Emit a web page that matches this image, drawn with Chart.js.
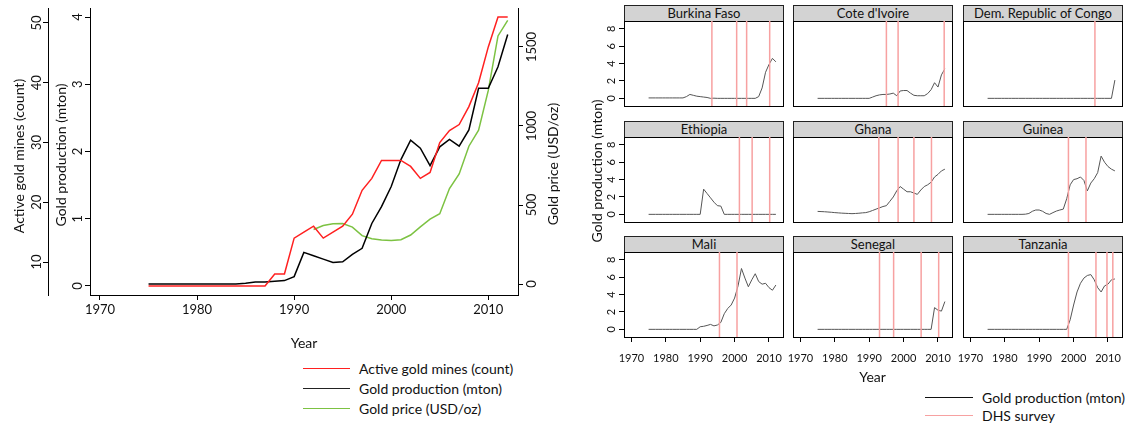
<!DOCTYPE html>
<html>
<head>
<meta charset="utf-8">
<script src="https://cdn.jsdelivr.net/npm/chart.js@4/dist/chart.umd.min.js"></script>
<style>
  body { margin:0; background:#fff; width:1130px; height:427px; overflow:hidden; position:relative; font-family:Lato, sans-serif; color:#111; }
  canvas { position:absolute; }
  .strip { position:absolute; box-sizing:border-box; height:17px; background:#d3d3d3; border:1px solid #222; font-size:13px; line-height:15px; text-align:center; white-space:nowrap; }
  .vt { position:absolute; transform:translate(-50%,-50%) rotate(-90deg); white-space:nowrap; font-size:14px; }
  .leg { position:absolute; font-size:14px; white-space:nowrap; transform:translateY(-50%); }
  .key { position:absolute; height:0; border-top:1.6px solid; }
</style>
</head>
<body>
<canvas id="main" width="575" height="355" style="left:0;top:0"></canvas>

<div class="vt" style="left:18px;top:156px">Active gold mines (count)</div>
<div class="vt" style="left:60px;top:155px">Gold production (mton)</div>
<div class="vt" style="left:552px;top:164px">Gold price (USD/oz)</div>
<div class="vt" style="left:596px;top:171px">Gold production (mton)</div>

<div class="key" style="left:303px;top:368px;width:47px;border-color:#ff2020"></div>
<div class="leg" style="left:359px;top:368px">Active gold mines (count)</div>
<div class="key" style="left:303px;top:388px;width:47px;border-color:#222"></div>
<div class="leg" style="left:359px;top:388px">Gold production (mton)</div>
<div class="key" style="left:303px;top:408px;width:47px;border-color:#7cc242"></div>
<div class="leg" style="left:359px;top:408px">Gold price (USD/oz)</div>

<div class="key" style="left:925px;top:397px;width:48px;border-color:#111"></div>
<div class="leg" style="left:982px;top:397px">Gold production (mton)</div>
<div class="key" style="left:925px;top:415px;width:48px;border-color:#f7a1a1"></div>
<div class="leg" style="left:982px;top:415px">DHS survey</div>

<script>
// ---- Overall series, 1975-2012 ----
const years = [1975,1976,1977,1978,1979,1980,1981,1982,1983,1984,1985,1986,1987,1988,1989,1990,1991,1992,1993,1994,1995,1996,1997,1998,1999,2000,2001,2002,2003,2004,2005,2006,2007,2008,2009,2010,2011,2012];
const activeMines = [6,6,6,6,6,6,6,6,6,6,6,6,6,8,8,14,15,16,14,15,16,18,22,24,27,27,27,26,24,25,30,32,33,36,40,46,51,51];
const goldProduction = [0.03,0.03,0.03,0.03,0.03,0.03,0.03,0.03,0.03,0.03,0.04,0.06,0.06,0.07,0.08,0.14,0.50,0.45,0.40,0.35,0.36,0.47,0.56,0.93,1.18,1.48,1.88,2.17,2.05,1.79,2.07,2.18,2.08,2.32,2.94,2.94,3.26,3.74];
const priceYears = [1992,1993,1994,1995,1996,1997,1998,1999,2000,2001,2002,2003,2004,2005,2006,2007,2008,2009,2010,2011,2012];
const goldPrice = [345,370,382,383,360,306,287,278,276,280,310,362,410,445,604,697,872,974,1225,1570,1668];

const yearTicks = [1970,1980,1990,2000,2010];
const mineTicks = [10,20,30,40,50];
const prodTicks = [0,1,2,3,4];
const priceTicks = [0,500,1000,1500];

// ---- Country panels ----
const countries = ['Burkina Faso','Cote d\'Ivoire','Dem. Republic of Congo','Ethiopia','Ghana','Guinea','Mali','Senegal','Tanzania'];
const prodBurkinaFaso = [0.05,0.05,0.05,0.05,0.05,0.05,0.05,0.05,0.05,0.05,0.05,0.2,0.45,0.35,0.25,0.2,0.15,0.1,0,0.02,0,0,0,0,0,0,0,0,0,0,0,0,0.2,1.2,3.0,3.9,4.6,4.2];
const prodCoteDIvoire = [0,0,0,0,0,0,0,0,0,0,0,0,0,0,0,0,0.15,0.3,0.4,0.45,0.45,0.5,0.6,0.3,0.85,0.9,0.9,0.6,0.35,0.3,0.3,0.3,0.55,1.0,1.8,1.3,2.7,3.4];
const prodDRCongo = [0,0,0,0,0,0,0,0,0,0,0,0,0,0,0,0,0,0,0,0,0,0,0,0,0,0,0,0,0,0,0,0,0,0,0,0,0,2.1];
const prodEthiopia = [0,0,0,0,0,0,0,0,0,0,0,0,0,0,0,0,2.9,2.4,1.9,1.4,1.0,0.95,0,0,0,0,0,0,0,0,0,0,0,0,0,0,0,0];
const prodGhana = [0.34,0.32,0.3,0.27,0.24,0.2,0.17,0.14,0.12,0.1,0.08,0.1,0.13,0.17,0.2,0.3,0.45,0.6,0.75,0.9,1.0,1.5,2.0,2.7,3.2,2.9,2.6,2.6,2.45,2.3,2.8,3.2,3.4,3.7,4.3,4.6,5.0,5.2];
const prodGuinea = [0,0,0,0,0,0,0,0,0,0,0,0.02,0.1,0.35,0.5,0.5,0.35,0.1,0,0.2,0.38,0.5,0.6,1.8,3.4,4.0,4.1,4.3,3.9,2.7,3.6,4.1,4.8,6.7,6.0,5.5,5.2,5.0];
const prodMali = [0,0,0,0,0,0,0,0,0,0,0,0,0,0,0,0.3,0.35,0.45,0.57,0.4,0.5,0.8,1.8,2.4,2.8,3.6,5.0,7.0,5.9,4.9,5.7,6.4,5.5,5.2,5.3,4.8,4.5,5.1];
const prodSenegal = [0,0,0,0,0,0,0,0,0,0,0,0,0,0,0,0,0,0,0,0,0,0,0,0,0,0,0,0,0,0,0,0,0,0,2.5,2.2,2.1,3.2];
const prodTanzania = [0,0,0,0,0,0,0,0,0,0,0,0,0,0,0,0,0,0,0,0,0,0,0,0,1.1,2.8,4.3,5.3,5.9,6.2,6.3,5.7,4.8,4.3,5.0,5.2,5.7,5.8];

const dhsBurkinaFaso = [1993.4,2000.6,2003.5,2010.2];
const dhsCoteDIvoire = [1995.0,1998.4,2011.8];
const dhsDRCongo = [2006.2];
const dhsEthiopia = [2001.4,2005.1,2010.2];
const dhsGhana = [1992.8,1998.4,2003.0,2008.1];
const dhsGuinea = [1998.5,2003.6];
const dhsMali = [1995.6,2000.7];
const dhsSenegal = [1993.0,1997.1,2005.1,2010.2];
const dhsTanzania = [1998.5,2006.5,2009.7,2011.4];

const panelYTicks = [0,2,4,6,8];
const panelYRange = [-0.88, 8.9];
const panelXRange = [1967.85, 2014.07];

const panelProd = [prodBurkinaFaso,prodCoteDIvoire,prodDRCongo,prodEthiopia,prodGhana,prodGuinea,prodMali,prodSenegal,prodTanzania];
const panelDhs = [dhsBurkinaFaso,dhsCoteDIvoire,dhsDRCongo,dhsEthiopia,dhsGhana,dhsGuinea,dhsMali,dhsSenegal,dhsTanzania];

Chart.defaults.font.family = 'Lato, sans-serif';
Chart.defaults.color = '#111';

const pts = (xs, ys) => xs.map((x, i) => ({x: x, y: ys[i]}));
const fixedTicks = list => (s => { s.ticks = list.map(v => ({value: v})); });
const tickGrid = {display: true, drawOnChartArea: false, drawTicks: true, tickLength: 5, color: '#000', lineWidth: 1};
const blackBorder = {display: true, color: '#000', width: 1};

// ---- Left chart: three series on three value axes ----
new Chart(document.getElementById('main'), {
  type: 'line',
  data: {
    datasets: [
      {data: pts(years, activeMines), yAxisID: 'yMines', borderColor: '#ff2020', borderWidth: 1.5, pointRadius: 0, tension: 0},
      {data: pts(years, goldProduction), yAxisID: 'yProd', borderColor: '#000', borderWidth: 1.5, pointRadius: 0, tension: 0},
      {data: pts(priceYears, goldPrice), yAxisID: 'yPrice', borderColor: '#7cc242', borderWidth: 1.5, pointRadius: 0, tension: 0}
    ]
  },
  options: {
    responsive: false, animation: false, events: [],
    layout: {padding: {top: 8, left: 0, right: 0, bottom: 0}},
    plugins: {legend: {display: false}, tooltip: {enabled: false}},
    scales: {
      x: {
        type: 'linear', position: 'bottom', min: 1968.97, max: 2013.06,
        afterBuildTicks: fixedTicks(yearTicks),
        afterFit: s => { s.height = 60; s.paddingLeft = 0; s.paddingRight = 0; },
        grid: tickGrid, border: blackBorder,
        ticks: {font: {size: 13}, color: '#111', padding: 2, maxRotation: 0, callback: v => String(v)},
        title: {display: true, text: 'Year', font: {size: 14}, color: '#111', padding: {top: 0, bottom: 3}}
      },
      yProd: {
        type: 'linear', position: 'left', weight: 0, min: -0.134, max: 4.134,
        afterBuildTicks: fixedTicks(prodTicks),
        afterFit: s => { s.width = 42; s.paddingTop = 0; s.paddingBottom = 0; },
        grid: tickGrid, border: blackBorder,
        ticks: {font: {size: 13}, color: '#111', padding: 3, minRotation: 90, maxRotation: 90, crossAlign: 'center', callback: v => String(v)}
      },
      yMines: {
        type: 'linear', position: 'left', weight: 1, min: 4.48, max: 52.51,
        afterBuildTicks: fixedTicks(mineTicks),
        afterFit: s => { s.width = 48; s.paddingTop = 0; s.paddingBottom = 0; },
        grid: tickGrid, border: blackBorder,
        ticks: {font: {size: 13}, color: '#111', padding: -1, minRotation: 90, maxRotation: 90, crossAlign: 'center', callback: v => String(v)}
      },
      yPrice: {
        type: 'linear', position: 'right', min: -69.6, max: 1746.8,
        afterBuildTicks: fixedTicks(priceTicks),
        afterFit: s => { s.width = 57; s.paddingTop = 0; s.paddingBottom = 0; },
        grid: tickGrid, border: blackBorder,
        ticks: {font: {size: 13}, color: '#111', padding: -6, minRotation: 90, maxRotation: 90, crossAlign: 'center', callback: v => String(v)}
      }
    }
  }
});

// ---- Country small multiples ----
const colLeft = [624, 793, 963];
const rowTop = [21, 137, 252];
const plotW = 159, plotH = 85;

countries.forEach((name, idx) => {
  const col = idx % 3, row = Math.floor(idx / 3);
  const leftCol = col === 0, bottomRow = row === 2;
  const axW = leftCol ? 40 : 0, axH = bottomRow ? 50 : 0;
  const padL = (!leftCol && bottomRow) ? 16 : 0;
  const padR = bottomRow ? 16 : 1;

  const strip = document.createElement('div');
  strip.className = 'strip';
  strip.style.left = colLeft[col] + 'px';
  strip.style.top = (rowTop[row] - 16) + 'px';
  strip.style.width = (plotW + 1) + 'px';
  strip.textContent = name;
  document.body.appendChild(strip);

  const cv = document.createElement('canvas');
  cv.width = plotW + axW + padL + padR;
  cv.height = plotH + axH + (bottomRow ? 1 : 2);
  cv.style.left = (colLeft[col] - axW - padL) + 'px';
  cv.style.top = (rowTop[row] - 1) + 'px';
  document.body.appendChild(cv);

  const surveyPts = [];
  panelDhs[idx].forEach(s => {
    surveyPts.push({x: s, y: panelYRange[0]}, {x: s, y: panelYRange[1]}, {x: s, y: null});
  });

  new Chart(cv, {
    type: 'line',
    data: {
      datasets: [
        {data: surveyPts, borderColor: '#f7a1a1', borderWidth: 1.5, pointRadius: 0, spanGaps: false},
        {data: pts(years, panelProd[idx]), borderColor: '#555', borderWidth: 1, pointRadius: 0, tension: 0}
      ]
    },
    options: {
      responsive: false, animation: false, events: [],
      layout: {padding: {top: 1, right: padR, bottom: bottomRow ? 0 : 1, left: padL}},
      plugins: {legend: {display: false}, tooltip: {enabled: false}},
      scales: {
        x: {
          type: 'linear', position: 'bottom', min: panelXRange[0], max: panelXRange[1],
          afterBuildTicks: fixedTicks(yearTicks),
          afterFit: s => { s.height = axH; s.paddingLeft = 0; s.paddingRight = 0; },
          grid: Object.assign({}, tickGrid, {display: bottomRow}), border: blackBorder,
          ticks: {display: bottomRow, font: {size: 11}, color: '#111', padding: 10, maxRotation: 0, callback: v => String(v)},
          title: {display: idx === 7, text: 'Year', font: {size: 14}, color: '#111', padding: {top: 0, bottom: 1}}
        },
        xTop: {
          type: 'linear', position: 'top', grid: {display: false}, ticks: {display: false}, border: blackBorder,
          afterFit: s => { s.height = 0; s.paddingLeft = 0; s.paddingRight = 0; }
        },
        y: {
          type: 'linear', position: 'left', min: panelYRange[0], max: panelYRange[1],
          afterBuildTicks: fixedTicks(panelYTicks),
          afterFit: s => { s.width = axW; s.paddingTop = 0; s.paddingBottom = 0; },
          grid: Object.assign({}, tickGrid, {display: leftCol}), border: blackBorder,
          ticks: {display: leftCol, font: {size: 11}, color: '#111', padding: 4, minRotation: 90, maxRotation: 90, crossAlign: 'center', callback: v => String(v)}
        },
        yRight: {
          type: 'linear', position: 'right', grid: {display: false}, ticks: {display: false}, border: blackBorder,
          afterFit: s => { s.width = 0; s.paddingTop = 0; s.paddingBottom = 0; }
        }
      }
    }
  });
});
</script>
</body>
</html>
